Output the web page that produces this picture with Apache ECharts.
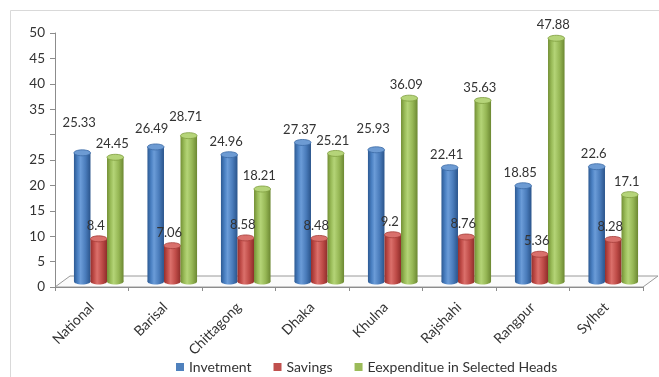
<!DOCTYPE html>
<html>
<head>
<meta charset="utf-8">
<title>Investment, Savings and Expenditure by Division</title>
<script src="https://cdn.jsdelivr.net/npm/echarts@6/dist/echarts.min.js"></script>
<style>
  html, body { margin: 0; padding: 0; background: #ffffff; }
  #chart { width: 659px; height: 377px; }
</style>
</head>
<body>
<div id="chart"></div>
<script>
// Division names along the category axis
const categories = ['National', 'Barisal', 'Chittagong', 'Dhaka', 'Khulna', 'Rajshahi', 'Rangpur', 'Sylhet'];

// Series values
const investment  = [25.33, 26.49, 24.96, 27.37, 25.93, 22.41, 18.85, 22.6];
const savings     = [8.4, 7.06, 8.58, 8.48, 9.2, 8.76, 5.36, 8.28];
const expenditure = [24.45, 28.71, 18.21, 25.21, 36.09, 35.63, 47.88, 17.1];

// Series names shown in the legend
const seriesNames = ['Invetment', 'Savings', 'Eexpenditue in Selected Heads'];

// Value-axis tick labels (the 30 tick carries no label)
const yTickLabels = ['0', '5', '10', '15', '20', '25', '', '35', '40', '45', '50'];

// ---- drawing ----
const FONT = 'Lato, "Open Sans", sans-serif';
const TEXT = '#333333';

// Front plane of the box (axes) and the plane the cylinders stand on
const front = { left: 55, right: 16, top: 33, bottom: 90 };
const depth = { dx: 15, dy: 11 };           // full floor depth
const mid = { dx: 7, dy: 5.5 };             // cylinders sit mid-depth

// Cylinder shading: edge -> highlight -> edge
const palettes = [
  { base: '#4f81bd', stops: ['#2d5a93', '#4a80c2', '#6b9cd8', '#4a7cbb', '#2a548b'], cap: '#6d9bd3', capLine: '#3b6aa5' },
  { base: '#c0504d', stops: ['#962f2c', '#c24e4a', '#db706b', '#bf4c48', '#8e2d2a'], cap: '#d9706c', capLine: '#a43c39' },
  { base: '#9bbb59', stops: ['#738f35', '#9abc59', '#b4d477', '#96b755', '#6c8832'], cap: '#b5d479', capLine: '#7f9d3f' }
];

// Extra lift for a few labels that sit higher above their cylinder
const labelLift = { '0-0': 17, '0-1': 5, '0-4': 8, '2-1': 6 };

function cylinderRenderer(k) {
  const pal = palettes[k];
  return function (params, api) {
    const idx = api.value(0);
    const v = api.value(1);
    const base = api.coord([idx, 0]);
    const top = api.coord([idx, v]);
    const band = api.size([1, 0])[0];
    const w = band * 0.225;
    const cx = base[0] + (k - 1) * w;
    const ry = w * 0.18;
    const grad = {
      type: 'linear', x: 0, y: 0, x2: 1, y2: 0,
      colorStops: [
        { offset: 0, color: pal.stops[0] },
        { offset: 0.22, color: pal.stops[1] },
        { offset: 0.4, color: pal.stops[2] },
        { offset: 0.7, color: pal.stops[3] },
        { offset: 1, color: pal.stops[4] }
      ]
    };
    const lift = 13 + (labelLift[k + '-' + idx] || 0);
    const extraDx = (k === 0 && idx === 1) ? -1 : 0;
    return {
      type: 'group',
      children: [
        { type: 'ellipse', shape: { cx: cx, cy: base[1], rx: w / 2, ry: ry }, style: { fill: grad } },
        { type: 'rect', shape: { x: cx - w / 2, y: top[1], width: w, height: base[1] - top[1] }, style: { fill: grad } },
        { type: 'ellipse', shape: { cx: cx, cy: top[1], rx: w / 2, ry: ry }, style: { fill: pal.cap, stroke: pal.capLine, lineWidth: 0.8 } },
        {
          type: 'text',
          style: {
            text: String(v), x: cx - 3 + extraDx, y: top[1] - lift,
            align: 'center', verticalAlign: 'middle',
            fill: TEXT, fontSize: 13, fontFamily: FONT
          },
          z2: 10
        }
      ]
    };
  };
}

const valueSets = [investment, savings, expenditure];

const chart = echarts.init(document.getElementById('chart'), null, { renderer: 'canvas' });

const W = 659;
const x0 = front.left, x1 = W - front.right, yb = 377 - front.bottom;

chart.setOption({
  animation: false,
  backgroundColor: '#ffffff',
  textStyle: { fontFamily: FONT },
  grid: [
    { left: front.left, right: front.right, top: front.top, bottom: front.bottom },
    { left: front.left + mid.dx, right: front.right - mid.dx, top: front.top - mid.dy, bottom: front.bottom + mid.dy }
  ],
  xAxis: [
    {
      gridIndex: 0, type: 'category', data: categories, boundaryGap: true,
      axisLine: { lineStyle: { color: '#8c8c8c', width: 1 } },
      axisTick: { show: true, length: 4, lineStyle: { color: '#8c8c8c' } },
      axisLabel: { rotate: 45, color: TEXT, fontSize: 14, fontFamily: FONT, margin: 18, interval: 0 }
    },
    { gridIndex: 1, type: 'category', data: categories, boundaryGap: true, show: false }
  ],
  yAxis: [
    {
      gridIndex: 0, type: 'value', min: 0, max: 50, interval: 5,
      axisLine: { show: true, lineStyle: { color: '#8c8c8c', width: 1 } },
      axisTick: { show: true, length: 5, lineStyle: { color: '#8c8c8c' } },
      splitLine: { show: false },
      axisLabel: {
        color: TEXT, fontSize: 13.5, fontFamily: FONT, margin: 10,
        formatter: function (val) { return yTickLabels[Math.round(val / 5)]; }
      }
    },
    { gridIndex: 1, type: 'value', min: 0, max: 50, interval: 5, show: false }
  ],
  legend: {
    top: 360, left: 176, padding: 0,
    itemWidth: 8, itemHeight: 8, itemGap: 22, icon: 'rect',
    textStyle: { color: TEXT, fontSize: 14, fontFamily: FONT },
    data: seriesNames
  },
  graphic: [
    // outer frame
    { type: 'line', shape: { x1: 10.5, y1: 10.5, x2: W, y2: 10.5 }, style: { stroke: '#d9d9d9', lineWidth: 1 }, z: 0 },
    { type: 'line', shape: { x1: 10.5, y1: 10.5, x2: 10.5, y2: 377 }, style: { stroke: '#d9d9d9', lineWidth: 1 }, z: 0 },
    // floor of the box
    {
      type: 'polygon',
      shape: { points: [[x0, yb], [x0 + depth.dx, yb - depth.dy], [x1 + depth.dx, yb - depth.dy], [x1, yb]] },
      style: { fill: '#fbfbfb', stroke: '#9a9a9a', lineWidth: 1 },
      z: 0
    }
  ],
  series: valueSets.map(function (vals, k) {
    return {
      name: seriesNames[k],
      type: 'custom',
      xAxisIndex: 1, yAxisIndex: 1,
      itemStyle: { color: palettes[k].base },
      renderItem: cylinderRenderer(k),
      encode: { x: 0, y: 1 },
      data: vals.map(function (v, i) { return [i, v]; }),
      z: 3
    };
  })
});
</script>
</body>
</html>
